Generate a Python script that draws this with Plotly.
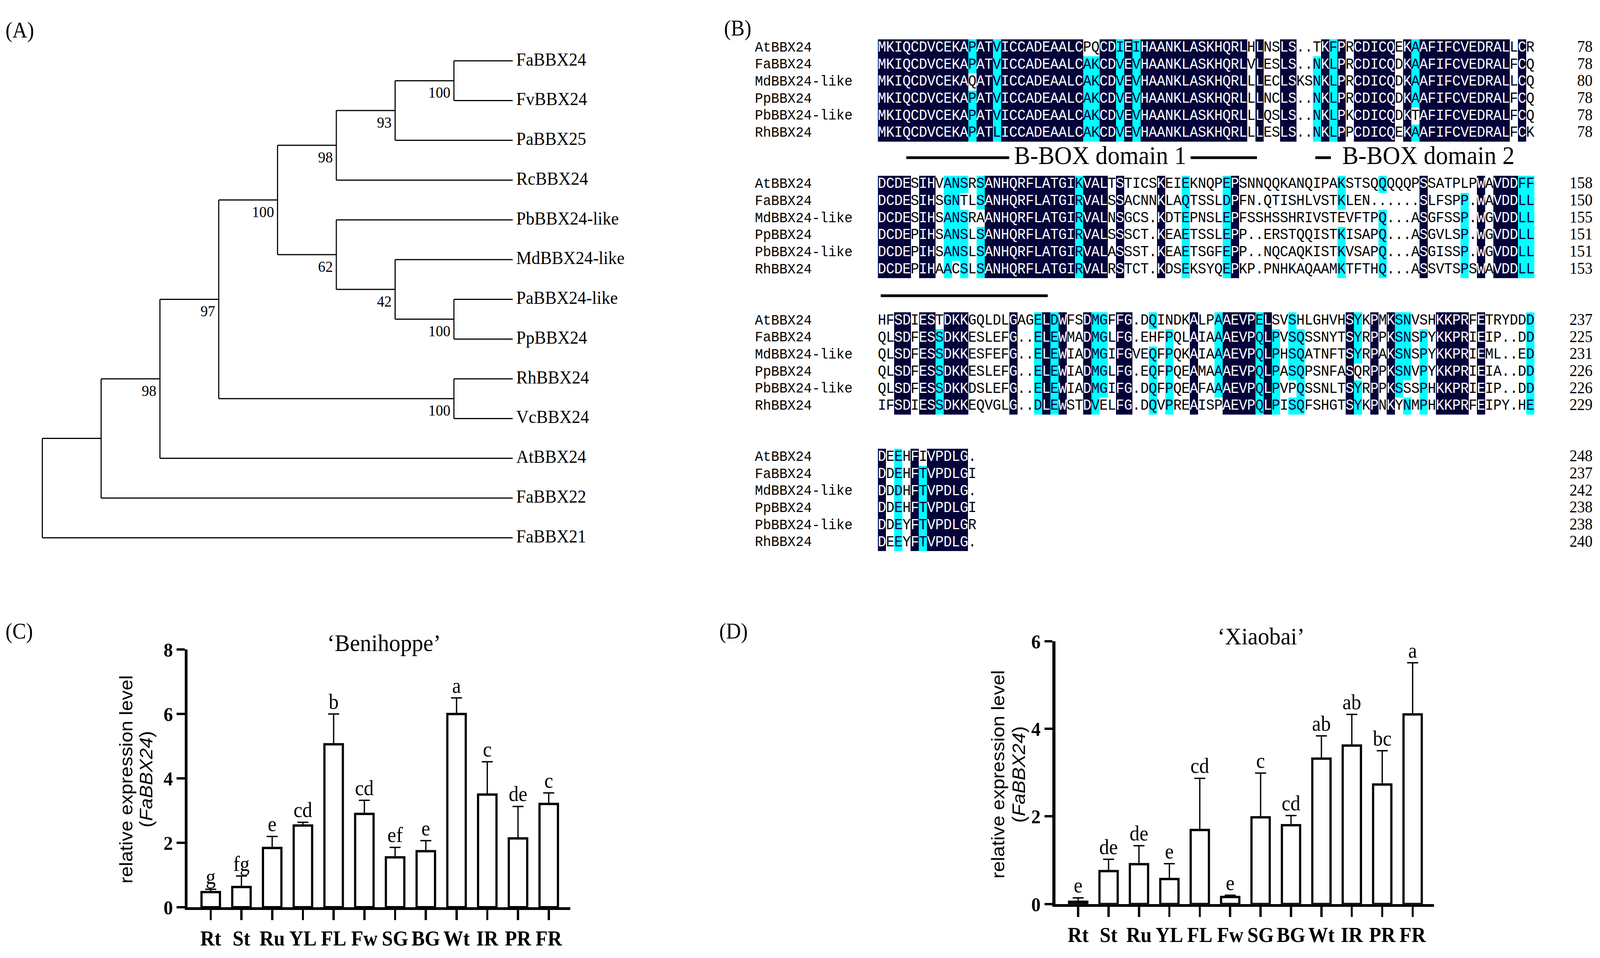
import plotly.graph_objects as go

# ---------- (A) tree: [child, child, bootstrap] ----------
rosaceae_clade = [[["FaBBX24", "FvBBX24", "100"], "PaBBX25", "93"], "RcBBX24", "98"]
pyrus_clade = ["PbBBX24-like", ["MdBBX24-like", ["PaBBX24-like", "PpBBX24", "100"], "42"], "62"]
rh_vc_clade = ["RhBBX24", "VcBBX24", "100"]
tree = [[[[[rosaceae_clade, pyrus_clade, "100"], rh_vc_clade, "97"], "AtBBX24", "98"], "FaBBX22", ""], "FaBBX21", ""]

# ---------- (B) alignment ----------
seq_names = ["AtBBX24", "FaBBX24", "MdBBX24-like", "PpBBX24", "PbBBX24-like", "RhBBX24"]
aln_block1 = [
    "MKIQCDVCEKAPATVICCADEAALCPQCDIEIHAANKLASKHQRLHLNSLS..TKFPRCDICQEKAAFIFCVEDRALLCR",
    "MKIQCDVCEKAPATVICCADEAALCAKCDVEVHAANKLASKHQRLVLESLS..NKLPRCDICQDKAAFIFCVEDRALFCQ",
    "MKIQCDVCEKAQATVICCADEAALCAKCDVEVHAANKLASKHQRLLLECLSKSNKLPRCDICQDKAAFIFCVEDRALLCQ",
    "MKIQCDVCEKAPATVICCADEAALCAKCDVEVHAANKLASKHQRLLLNCLS..NKLPRCDICQDKAAFIFCVEDRALFCQ",
    "MKIQCDVCEKAPATVICCADEAALCAKCDVEVHAANKLASKHQRLLLQSLS..NKLPKCDICQDKTAFIFCVEDRALFCQ",
    "MKIQCDVCEKAPATLICCADEAALCAKCDVEVHAANKLASKHQRLLLESLS..NKLPPCDICQEKAAFIFCVEDRALFCK",
]
aln_block2 = [
    "DCDESIHVANSRSANHQRFLATGIKVALTSTICSKEIEKNQPEPSNNQQKANQIPAKSTSQQQQQPSSATPLPWAVDDFF",
    "DCDESIHSGNTLSANHQRFLATGIRVALSSACNNKLAQTSSLDPFN.QTISHLVSTKLEN......SLFSPP.WAVDDLL",
    "DCDESIHSANSRAANHQRFLATGIRVALNSGCS.KDTEPNSLEPFSSHSSHRIVSTEVFTPQ...ASGFSSP.WGVDDLL",
    "DCDEPIHSANSLSANHQRFLATGIRVALSSSCT.KEAETSSLEPP..ERSTQQISTKISAPQ...ASGVLSP.WGVDDLL",
    "DCDEPIHSANSLSANHQRFLATGIRVALASSST.KEAETSGFEPP..NQCAQKISTKVSAPQ...ASGISSP.WGVDDLL",
    "DCDEPIHAACSLSANHQRFLATGIRVALRSTCT.KDSEKSYQEPKP.PNHKAQAAMKTFTHQ...ASSVTSPSWAVDDLL",
]
aln_block3 = [
    "HFSDIESTDKKGQLDLGAGELDWFSDMGFFG.DQINDKALPAAEVPELSVSHLGHVHSYKPMKSNVSHKKPRFETRYDDD",
    "QLSDFESSDKKESLEFG..ELEWMADMGLFG.EHFPQLAIAAAEVPQLPVSQSSNYTSYRPPKSNSPYKKPRIEIP..DD",
    "QLSDFESSDKKESFEFG..ELEWIADMGIFGVEQFPQKAIAAAEVPQLPHSQATNFTSYRPAKSNSPYKKPRIEML..ED",
    "QLSDFESSDKKESLEFG..ELEWIADMGLFG.EQFPQEAMAAAEVPQLPASQPSNFASQRPPKSNVPYKKPRIEIA..DD",
    "QLSDFESSDKKDSLEFG..ELEWIADMGIFG.DQFPQEAFAAAEVPQLPVPQSSNLTSYRPPKSSSPHKKPRIEIP..DD",
    "IFSDIESSDKKEQVGLG..DLEWSTDVELFG.DQVPREAISPAEVPQLPISQFSHGTSYKPNKYNMPHKKPRFEIPY.HE",
]
aln_block4 = [
    "DEEHFIVPDLG.",
    "DDEHFTVPDLGI",
    "DDDHFTVPDLG.",
    "DDEHFTVPDLGI",
    "DDEYFTVPDLGR",
    "DEEYFTVPDLG.",
]
aln_blocks = [aln_block1, aln_block2, aln_block3, aln_block4]
domain_labels = ["B-BOX domain 1", "B-BOX domain 2"]

# ---------- (C), (D) expression ----------
tissues = ["Rt", "St", "Ru", "YL", "FL", "Fw", "SG", "BG", "Wt", "IR", "PR", "FR"]
beni_mean = [0.47, 0.63, 1.84, 2.54, 5.06, 2.90, 1.55, 1.74, 6.00, 3.50, 2.14, 3.21]
beni_err = [0.09, 0.34, 0.36, 0.10, 0.94, 0.42, 0.31, 0.33, 0.50, 1.02, 0.99, 0.34]
beni_letters = ["g", "fg", "e", "cd", "b", "cd", "ef", "e", "a", "c", "de", "c"]
xiao_mean = [0.05, 0.75, 0.91, 0.57, 1.69, 0.16, 1.98, 1.80, 3.32, 3.62, 2.73, 4.33]
xiao_err = [0.09, 0.27, 0.42, 0.35, 1.18, 0.04, 1.01, 0.22, 0.52, 0.71, 0.77, 1.18]
xiao_letters = ["e", "de", "de", "e", "cd", "e", "c", "cd", "ab", "ab", "bc", "a"]

SERIF = "Liberation Serif"
MONO = "Liberation Mono"
NAVY = "#03033a"
CYAN = "#00ffff"
W, H = 4358, 2453

fig = go.Figure()

# ---- tree ----
def height(node):
    if isinstance(node, str):
        return 0
    return 1 + max(height(node[0]), height(node[1]))

tip_x = height(tree)
leaf_order = []
lx, ly = [], []
boot = []

def place(node):
    if isinstance(node, str):
        leaf_order.append(node)
        return tip_x, len(leaf_order) - 1
    x = tip_x - height(node)
    x1, y1 = place(node[0])
    x2, y2 = place(node[1])
    lx.extend([x, x, None, x, x1, None, x, x2, None])
    ly.extend([y1, y2, None, y1, y1, None, y2, y2, None])
    y = (y1 + y2) / 2
    if node[2]:
        boot.append((x, y, node[2]))
    return x, y

place(tree)

fig.add_trace(go.Scatter(x=lx, y=ly, mode="lines", line=dict(color="black", width=3),
                         xaxis="x", yaxis="y", hoverinfo="skip"))
fig.add_trace(go.Scatter(x=[tip_x + 0.06] * len(leaf_order), y=list(range(len(leaf_order))),
                         mode="text", text=leaf_order, textposition="middle right",
                         textfont=dict(family=SERIF, size=47, color="black"),
                         xaxis="x", yaxis="y", cliponaxis=False, hoverinfo="skip"))
fig.add_trace(go.Scatter(x=[b[0] - 0.06 for b in boot], y=[b[1] + 0.33 for b in boot],
                         mode="text", text=[b[2] for b in boot], textposition="middle left",
                         textfont=dict(family=SERIF, size=40, color="black"),
                         xaxis="x", yaxis="y", cliponaxis=False, hoverinfo="skip"))

# ---- alignment ----
groups = ["ILVMF", "KR", "DEQ", "AG"]

def column_shade(col):
    counts = {}
    for a in col:
        if a != ".":
            counts[a] = counts.get(a, 0) + 1
    top = max(counts, key=counts.get)
    n = counts[top]
    if n == len(col):
        return [2] * len(col)
    if n < 5:
        return [0] * len(col)
    out = []
    for a in col:
        same = a == top or any(a in g and top in g for g in groups)
        out.append(1 if (same and a != ".") else 0)
    return out

shade_scale = [[0, "white"], [0.33, "white"], [0.33, CYAN], [0.67, CYAN], [0.67, NAVY], [1, NAVY]]
text_col = ["black", "#000040", "white"]
tx, ty, tt, tc = [], [], [], []
nx, ny, nt = [], [], []
residues = [0] * len(seq_names)
for b, block in enumerate(aln_blocks):
    ncol = len(block[0])
    cols = [column_shade([s[c] for s in block]) for c in range(ncol)]
    z = [[cols[c][r] for c in range(ncol)] for r in range(len(block))]
    rows = [8 * b + r for r in range(len(block))]
    fig.add_trace(go.Heatmap(x=list(range(ncol)), y=rows, z=z, colorscale=shade_scale,
                             zmin=0, zmax=2, showscale=False, xaxis="x2", yaxis="y2",
                             hoverinfo="skip"))
    for r, s in enumerate(block):
        for c, a in enumerate(s):
            tx.append(c)
            ty.append(rows[r])
            tt.append(a)
            tc.append(text_col[z[r][c]])
        residues[r] += len(s.replace(".", ""))
        nx.append(86.6)
        ny.append(rows[r])
        nt.append(str(residues[r]))

fig.add_trace(go.Scatter(x=tx, y=ty, mode="text", text=tt, textposition="middle center",
                         textfont=dict(family=MONO, size=38, color=tc),
                         xaxis="x2", yaxis="y2", cliponaxis=False, hoverinfo="skip"))
name_y = [8 * b + r for b in range(len(aln_blocks)) for r in range(len(seq_names))]
fig.add_trace(go.Scatter(x=[-15.5] * len(name_y), y=name_y,
                         text=seq_names * len(aln_blocks), mode="text",
                         textposition="middle right",
                         textfont=dict(family=MONO, size=37, color="black"),
                         xaxis="x2", yaxis="y2", cliponaxis=False, hoverinfo="skip"))
fig.add_trace(go.Scatter(x=nx, y=ny, text=nt, mode="text", textposition="middle left",
                         textfont=dict(family=SERIF, size=42, color="black"),
                         xaxis="x2", yaxis="y2", cliponaxis=False, hoverinfo="skip"))

shapes = []
for x0, x1, yv in [(2.96, 15.5, 6.44), (37.6, 45.7, 6.44), (52.8, 54.7, 6.44), (-0.16, 20.2, 14.53)]:
    shapes.append(dict(type="line", xref="x2", yref="y2", x0=x0, x1=x1, y0=yv, y1=yv,
                       line=dict(color="black", width=7)))

annotations = []
for label, xc in zip(domain_labels, [26.6, 66.6]):
    annotations.append(dict(text=label, x=xc, y=6.3, xref="x2", yref="y2", showarrow=False,
                            xanchor="center", yanchor="middle",
                            font=dict(family=SERIF, size=66, color="black")))

# ---- bar charts ----
def add_bars(mean, err, letters, xa, ya):
    fig.add_trace(go.Bar(x=tissues, y=mean, width=0.6,
                         marker=dict(color="white", line=dict(color="black", width=6)),
                         error_y=dict(type="data", symmetric=False, array=err,
                                      arrayminus=[0] * len(err), color="black",
                                      thickness=3.5, width=15),
                         xaxis=xa, yaxis=ya, hoverinfo="skip"))
    fig.add_trace(go.Scatter(x=tissues, y=[m + e for m, e in zip(mean, err)], text=letters,
                             mode="text", textposition="top center",
                             textfont=dict(family=SERIF, size=54, color="black"),
                             xaxis=xa, yaxis=ya, cliponaxis=False, hoverinfo="skip"))

add_bars(beni_mean, beni_err, beni_letters, "x3", "y3")
add_bars(xiao_mean, xiao_err, xiao_letters, "x4", "y4")

def bar_xaxis(domain, anchor):
    return dict(domain=domain, anchor=anchor, type="category", range=[-0.75, 11.7],
                showline=True, linewidth=7, linecolor="black", showgrid=False,
                zeroline=False, ticks="outside", ticklen=26, tickwidth=6, tickcolor="black",
                tickfont=dict(family=SERIF, size=54, color="black", weight="bold"))

def bar_yaxis(domain, anchor, top):
    return dict(domain=domain, anchor=anchor, range=[0, top], tickvals=list(range(0, top + 1, 2)),
                showline=True, linewidth=8, linecolor="black", showgrid=False,
                zeroline=False, ticks="outside", ticklen=22, tickwidth=6, tickcolor="black",
                tickfont=dict(family=SERIF, size=51, color="black", weight="bold"))

for text, xc, yc in [("‘Benihoppe’", 0.2401, 0.3246), ("‘Xiaobai’", 0.7882, 0.3317)]:
    annotations.append(dict(text=text, x=xc, y=yc, xref="paper", yref="paper", showarrow=False,
                            xanchor="center", yanchor="middle",
                            font=dict(family=SERIF, size=62, color="black")))

for xc1, xc2, yc in [(0.0788, 0.0913, 0.179), (0.6238, 0.6367, 0.184)]:
    annotations.append(dict(text="relative expression level", x=xc1, y=yc, xref="paper",
                            yref="paper", showarrow=False, textangle=-90,
                            xanchor="center", yanchor="middle",
                            font=dict(family="Liberation Sans", size=50, color="black")))
    annotations.append(dict(text="(<i>FaBBX24</i>)", x=xc2, y=yc, xref="paper",
                            yref="paper", showarrow=False, textangle=-90,
                            xanchor="center", yanchor="middle",
                            font=dict(family="Liberation Sans", size=50, color="black")))

for text, xl, yc in [("(A)", 0.003, 0.979), ("(B)", 0.452, 0.981),
                     ("(C)", 0.003, 0.337), ("(D)", 0.449, 0.337)]:
    annotations.append(dict(text=text, x=xl, y=yc, xref="paper", yref="paper", showarrow=False,
                            xanchor="left", yanchor="middle",
                            font=dict(family=SERIF, size=56, color="black")))

fig.update_layout(
    width=W, height=H, autosize=False,
    margin=dict(l=0, r=0, t=0, b=0),
    paper_bgcolor="white", plot_bgcolor="white",
    showlegend=False,
    xaxis=dict(domain=[0, 0.4487], range=[-0.72, 11.49], visible=False, anchor="y"),
    yaxis=dict(domain=[0.385, 1], range=[13.22, -1.266], visible=False, anchor="x"),
    xaxis2=dict(domain=[0.4487, 1], range=[-20.0, 87.5], visible=False, anchor="y2"),
    yaxis2=dict(domain=[0.385, 1], range=[31.5625, -2.1875], visible=False, anchor="x2"),
    xaxis3=bar_xaxis([0.1173, 0.3564], "y3"),
    yaxis3=bar_yaxis([0.0421, 0.3173], "x3", 8),
    xaxis4=bar_xaxis([0.6596, 0.8962], "y4"),
    yaxis4=bar_yaxis([0.0456, 0.3262], "x4", 6),
    shapes=shapes,
    annotations=annotations,
)

# stretch the fixed-size figure so that it fills the browser viewport
fit_js = (
    "document.body.style.margin='0';document.body.style.overflow='hidden';"
    "var d=document.querySelector('.plotly-graph-div');"
    "var sx=window.innerWidth/%d, sy=window.innerHeight/%d;"
    "d.style.transformOrigin='0 0';d.style.transform='scale('+sx+','+sy+')';" % (W, H)
)
fig.write_html("out.html", post_script=fit_js, config={"displayModeBar": False})
